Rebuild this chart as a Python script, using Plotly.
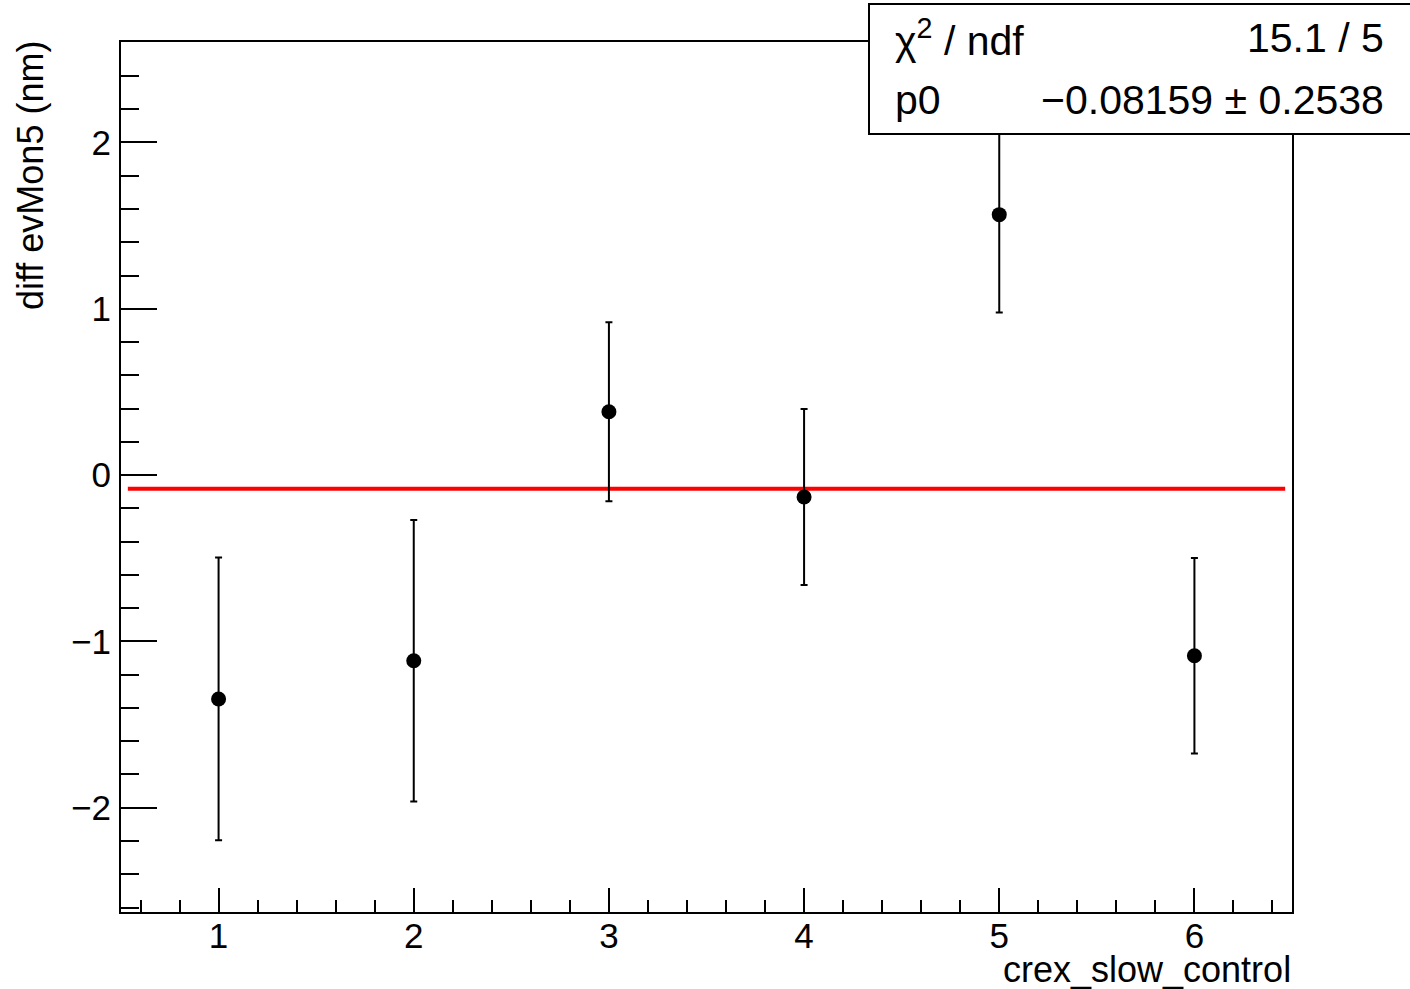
import plotly.graph_objects as go

# ---- data ----
run_index = [1, 2, 3, 4, 5, 6]
diff_values = [-1.346, -1.116, 0.381, -0.132, 1.566, -1.086]
diff_errors = [0.850, 0.846, 0.538, 0.529, 0.589, 0.588]
fit_p0 = -0.08159
fit_p0_err = 0.2538
fit_range = [0.535, 6.465]
chi2_text = "15.1 / 5"
x_ticks = [1, 2, 3, 4, 5, 6]
y_ticks = [-2, -1, 0, 1, 2]
y_ticktext = ["\u22122", "\u22121", "0", "1", "2"]

FONT = "Liberation Sans, Arial, Helvetica, sans-serif"
W, H = 1410, 989
# plot area in page pixels
L, R, T, B = 121, 1292, 42, 911.7


def px_x(x):
    return (x - L) / (R - L)


def px_y(y):
    return (B - y) / (B - T)


fig = go.Figure()

fig.add_trace(go.Scatter(
    x=fit_range, y=[fit_p0, fit_p0], mode="lines",
    line=dict(color="#ff0000", width=4), showlegend=False, hoverinfo="skip"))

fig.add_trace(go.Scatter(
    x=run_index, y=diff_values, mode="markers",
    marker=dict(color="black", size=15, symbol="circle"),
    error_y=dict(type="data", array=diff_errors, visible=True,
                 color="black", thickness=2, width=3.5),
    showlegend=False))

axis_common = dict(
    showline=True, linecolor="black", linewidth=2, mirror=True,
    showgrid=False, zeroline=False, ticks="inside", tickcolor="black",
    tickwidth=2, tickfont=dict(family=FONT, size=35, color="black"),
)

fig.update_xaxes(range=[0.5, 6.5], tickvals=x_ticks, ticklen=24,
                 minor=dict(dtick=0.2, ticklen=12, ticks="inside",
                            tickcolor="black", tickwidth=2, showgrid=False),
                 ticklabelstandoff=-8,
                 **axis_common)
fig.update_yaxes(range=[-2.627, 2.604], tickvals=y_ticks, ticktext=y_ticktext,
                 ticklen=36,
                 minor=dict(dtick=0.2, ticklen=18, ticks="inside",
                            tickcolor="black", tickwidth=2, showgrid=False),
                 ticklabelstandoff=1,
                 **axis_common)

# stats box
fig.add_shape(type="rect", xref="paper", yref="paper",
              x0=px_x(869), x1=px_x(1430), y0=px_y(134), y1=px_y(4),
              line=dict(color="black", width=2), fillcolor="white", layer="above")

ann_font = dict(family=FONT, size=41, color="black")
fig.add_annotation(xref="paper", yref="paper", x=px_x(893), y=px_y(38),
                   xanchor="left", yanchor="middle", showarrow=False,
                   text="\u03c7<sup>2</sup> / ndf", font=ann_font)
fig.add_annotation(xref="paper", yref="paper", x=px_x(1386), y=px_y(38),
                   xanchor="right", yanchor="middle", showarrow=False,
                   text=chi2_text, font=ann_font)
fig.add_annotation(xref="paper", yref="paper", x=px_x(893), y=px_y(100),
                   xanchor="left", yanchor="middle", showarrow=False,
                   text="p0", font=ann_font)
fig.add_annotation(xref="paper", yref="paper", x=px_x(1386), y=px_y(100),
                   xanchor="right", yanchor="middle", showarrow=False,
                   text=f"\u2212{abs(fit_p0):.5f} \u00b1 {fit_p0_err:.4f}", font=ann_font)

# axis titles
fig.add_annotation(xref="paper", yref="paper", x=px_x(1293), y=px_y(969),
                   xanchor="right", yanchor="middle", showarrow=False,
                   text="crex_slow_control",
                   font=dict(family=FONT, size=36, color="black"))
fig.add_annotation(xref="paper", yref="paper", x=px_x(30), y=px_y(176),
                   xanchor="center", yanchor="middle", showarrow=False,
                   textangle=-90, text="diff evMon5 (nm)",
                   font=dict(family=FONT, size=36, color="black"))

fig.update_layout(
    width=W, height=H,
    margin=dict(l=L, r=W - R, t=T, b=H - B, pad=0),
    paper_bgcolor="white", plot_bgcolor="white",
    showlegend=False,
)

fig.write_html("out.html",
               config={"displayModeBar": False, "staticPlot": True},
               post_script="document.body.style.margin='0';"
                           "document.body.style.overflow='hidden';")
